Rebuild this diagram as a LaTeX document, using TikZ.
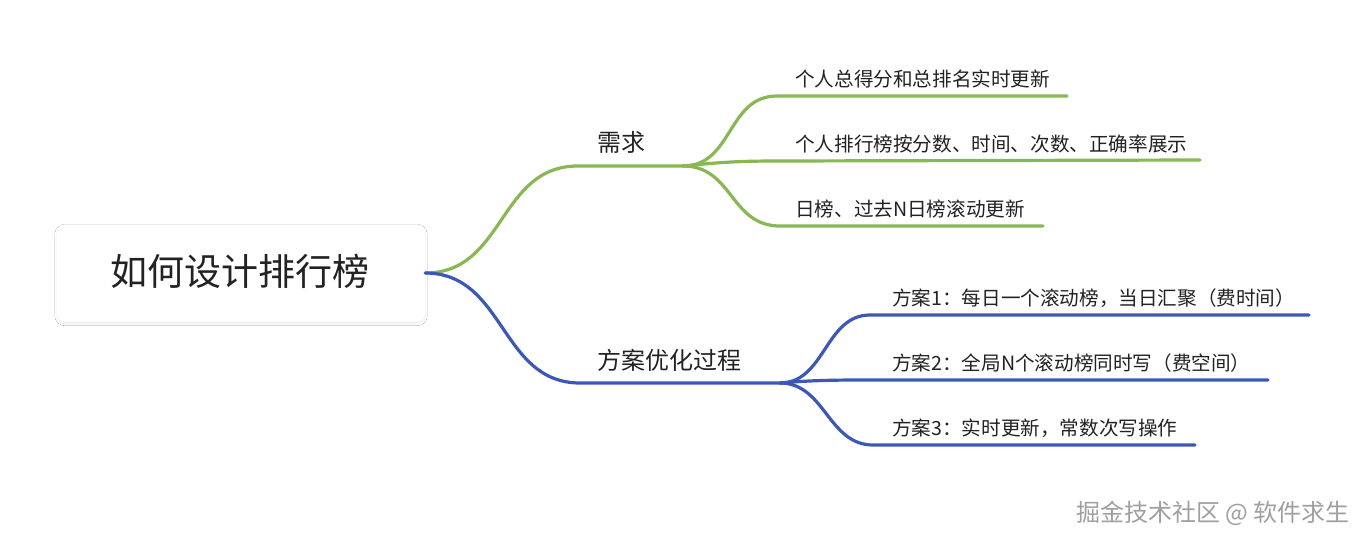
\documentclass[tikz,border=0pt]{standalone}
\usepackage{fontspec}
\setmainfont{Noto Sans CJK SC}
\definecolor{branchgreen}{RGB}{136,184,84}
\definecolor{branchblue}{RGB}{60,88,182}
\definecolor{textdark}{RGB}{34,34,34}
\usetikzlibrary{positioning,calc,shadows.blur}

\begin{document}
\begin{tikzpicture}[x=1pt,y=-1pt,
    topic/.style={text=textdark, font=\fontsize{24}{28}\selectfont, inner sep=0pt, anchor=base west},
    leaf/.style={text=textdark, font=\fontsize{19.6}{23}\selectfont, inner sep=0pt, anchor=base west},
    greenline/.style={draw=branchgreen, line width=3.2pt, line cap=round},
    blueline/.style={draw=branchblue, line width=3.2pt, line cap=round}]
    \useasboundingbox[fill=white] (0,0) rectangle (1366,544);

    % root
    \node[rounded corners=8pt, fill=white, draw=gray!4, minimum width=368pt, minimum height=97pt,
          blur shadow={shadow xshift=0pt, shadow yshift=-2pt, shadow blur steps=8, shadow opacity=8}]
          (root) at (241,273) {};
    \node[text=textdark, font=\fontsize{37}{43}\selectfont] (roottext) at (240,271) {如何设计排行榜};

    % 需求
    \coordinate (reqs) at (578,166);
    \coordinate (reqj) at (683,166);
    \node[topic] (req) at (597,151) {需求};
    \draw[greenline] (root.east) .. controls +(80,0) and +(-80,0) .. (reqs) -- (reqj);

    \node[leaf] (reqa) at (795,86) {个人总得分和总排名实时更新};
    \node[leaf] (reqb) at (795,151) {个人排行榜按分数、时间、次数、正确率展示};
    \node[leaf] (reqc) at (795,216) {日榜、过去N日榜滚动更新};
    \coordinate (reqae) at (1067,96);
    \coordinate (reqbe) at (1200,160);
    \coordinate (reqce) at (1043,226);
    \draw[greenline] (reqj) .. controls +(50,0) and +(-50,0) .. (777,96) -- (reqae);
    \draw[greenline] (reqj) .. controls +(40,-4) and +(-40,0) .. (780,161) -- (reqbe);
    \draw[greenline] (reqj) .. controls +(50,0) and +(-50,0) .. (780,226) -- (reqce);

    % 方案优化过程
    \coordinate (plans) at (580,383);
    \coordinate (planj) at (780,383);
    \node[topic] (plan) at (597,369) {方案优化过程};
    \draw[blueline] (root.east) .. controls +(80,0) and +(-80,0) .. (plans) -- (planj);

    \node[leaf] (plana) at (892,305) {方案1：每日一个滚动榜，当日汇聚（费时间）};
    \node[leaf] (planb) at (892,370) {方案2：全局N个滚动榜同时写（费空间）};
    \node[leaf] (planc) at (892,435) {方案3：实时更新，常数次写操作};
    \coordinate (planae) at (1309,315);
    \coordinate (planbe) at (1268,380);
    \coordinate (plance) at (1195,445);
    \draw[blueline] (planj) .. controls +(45,0) and +(-45,0) .. (870,315) -- (planae);
    \draw[blueline] (planj) .. controls +(35,-3) and +(-35,0) .. (873,380) -- (planbe);
    \draw[blueline] (planj) .. controls +(45,0) and +(-45,0) .. (873,445) -- (plance);

    % watermark
    \node[text=gray!75, font=\fontsize{24}{28}\selectfont, inner sep=0pt, anchor=base east] (mark) at (1350,521) {掘金技术社区 @ 软件求生};
\end{tikzpicture}
\end{document}
